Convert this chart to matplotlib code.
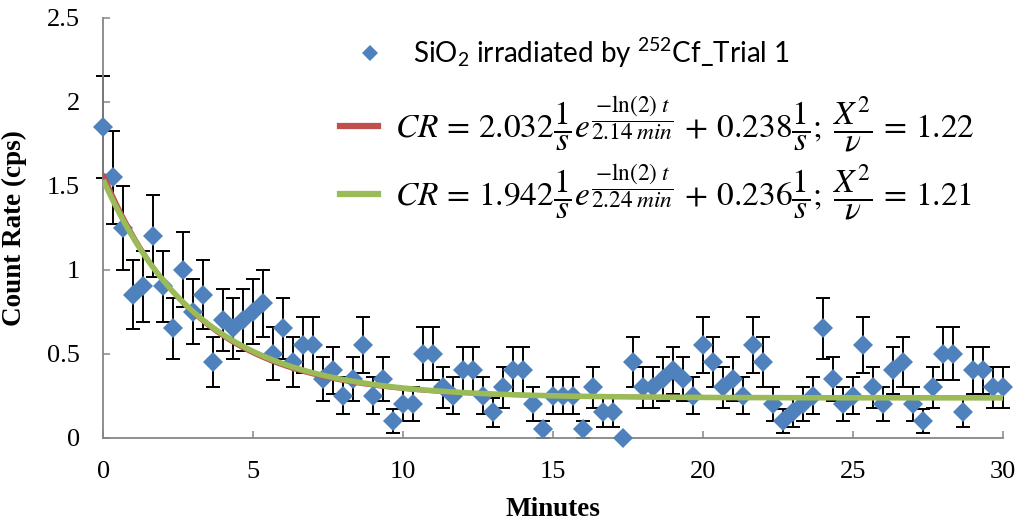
import numpy as np
import matplotlib
matplotlib.use("Agg")
import matplotlib.pyplot as plt
from matplotlib.lines import Line2D

# ---- data (count rate in cps, one bin every 20 s) ----
minutes = [i / 3 for i in range(91)]
count_rate = [
    1.85, 1.55, 1.25, 0.85, 0.90, 1.20, 0.90, 0.65, 1.00, 0.75, 0.85, 0.45, 0.70, 0.65, 0.70, 0.75, 0.80, 0.50, 0.65, 0.45, 0.55, 0.55,
    0.35, 0.40, 0.25, 0.35, 0.55, 0.25, 0.35, 0.10, 0.20, 0.20, 0.50, 0.50, 0.30, 0.25, 0.40, 0.40, 0.25, 0.15, 0.30, 0.40, 0.40, 0.20, 0.05,
    0.25, 0.25, 0.25, 0.05, 0.30, 0.15, 0.15, 0.00, 0.45, 0.30, 0.30, 0.35, 0.40, 0.35, 0.25, 0.55, 0.45, 0.30, 0.35, 0.25, 0.55, 0.45, 0.20,
    0.10, 0.15, 0.20, 0.25, 0.65, 0.35, 0.20, 0.25, 0.55, 0.30, 0.20, 0.40, 0.45, 0.20, 0.10, 0.30, 0.50, 0.50, 0.15, 0.40, 0.40, 0.30, 0.30,
]
count_err = [
    0.304, 0.278, 0.250, 0.206, 0.212, 0.245, 0.212, 0.180, 0.224, 0.194, 0.206, 0.150, 0.187, 0.180, 0.187, 0.194, 0.200, 0.158, 0.180, 0.150, 0.166, 0.166,
    0.132, 0.141, 0.112, 0.132, 0.166, 0.112, 0.132, 0.071, 0.100, 0.100, 0.158, 0.158, 0.122, 0.112, 0.141, 0.141, 0.112, 0.087, 0.122, 0.141, 0.141, 0.100, 0.050,
    0.112, 0.112, 0.112, 0.050, 0.122, 0.087, 0.087, 0.000, 0.150, 0.122, 0.122, 0.132, 0.141, 0.132, 0.112, 0.166, 0.150, 0.122, 0.132, 0.112, 0.166, 0.150, 0.100,
    0.071, 0.087, 0.100, 0.112, 0.180, 0.132, 0.100, 0.112, 0.166, 0.122, 0.100, 0.141, 0.150, 0.100, 0.071, 0.122, 0.158, 0.158, 0.087, 0.141, 0.141, 0.122, 0.122,
]

# fit parameters: amplitude (1/s), half-life (min), background (1/s)
fit1 = (2.032, 2.14, 0.238)
fit2 = (1.942, 2.24, 0.236)
t_delay = 1.3  # minutes between end of irradiation and start of counting

series_label = r'SiO$\mathregular{_2}$ irradiated by $\mathregular{^{252}}$Cf_Trial 1'
fit1_label = (r'$CR\,=\,2.032\dfrac{1}{s}e^{\dfrac{-\ln(2)\;t}{2.14\;min}}\,+\,0.238\dfrac{1}{s};\;'
              r'\dfrac{X^2}{\nu}\,=\,1.22$')
fit2_label = (r'$CR\,=\,1.942\dfrac{1}{s}e^{\dfrac{-\ln(2)\;t}{2.24\;min}}\,+\,0.236\dfrac{1}{s};\;'
              r'\dfrac{X^2}{\nu}\,=\,1.21$')

x_ticks = [0, 5, 10, 15, 20, 25, 30]
y_ticks = [0, 0.5, 1, 1.5, 2, 2.5]
y_tick_labels = ['0', '0.5', '1', '1.5', '2', '2.5']

plt.rcParams['mathtext.fontset'] = 'stix'

blue = '#4F81BD'
red = '#C0504D'
green = '#9BBB59'
axis_gray = '#868686'

fig = plt.figure(figsize=(10.17, 5.22), dpi=100)
ax = fig.add_axes([103.3 / 1017, 1 - 437.5 / 522, 900 / 1017, (437.5 - 18) / 522])

x = np.array(minutes)
y = np.array(count_rate)
e = np.array(count_err)

eb = ax.errorbar(x, y, yerr=e, fmt='none', ecolor='black', elinewidth=1.4,
                 capsize=5, capthick=1.4, zorder=2)
for artist in list(eb.lines[1]) + list(eb.lines[2]):
    artist.set_clip_on(False)

ax.plot(x, y, linestyle='none', marker='D', markersize=10.5, color=blue,
        markeredgewidth=0, zorder=3, clip_on=False)

t = np.linspace(0, 30, 400)
for (a, hl, b), col, lw in [(fit1, red, 3.2), (fit2, green, 4.0)]:
    ax.plot(t, a * np.exp(-np.log(2) * (t + t_delay) / hl) + b, color=col,
            linewidth=lw, zorder=4, solid_capstyle='butt')

ax.set_xlim(0, 30)
ax.set_ylim(0, 2.5)
ax.set_xticks(x_ticks)
ax.set_xticklabels([str(v) for v in x_ticks])
ax.set_yticks(y_ticks)
ax.set_yticklabels(y_tick_labels)

for side in ['top', 'right']:
    ax.spines[side].set_visible(False)
for side in ['left', 'bottom']:
    ax.spines[side].set_color(axis_gray)
    ax.spines[side].set_linewidth(1.3)
ax.tick_params(direction='in', length=5, width=1.1, color=axis_gray, pad=17,
               labelsize=19)
for lab in ax.get_xticklabels() + ax.get_yticklabels():
    lab.set_family('Liberation Serif')

ax.set_xlabel('Minutes', fontsize=19.5, fontweight='bold', family='Liberation Serif', labelpad=10)
ax.set_ylabel('Count Rate (cps)', fontsize=19.5, fontweight='bold', family='Liberation Serif', labelpad=14)

# legend: scatter entry
h_scatter = Line2D([], [], linestyle='none', marker='D', markersize=8, color=blue, markeredgewidth=0)
leg1 = ax.legend([h_scatter], [series_label], loc='center left',
                 bbox_to_anchor=(356 / 1017, 1 - 53 / 522), bbox_transform=fig.transFigure,
                 frameon=False, handlelength=1.0, handletextpad=1.05,
                 borderaxespad=0, borderpad=0, prop={'family': 'Lato', 'size': 20})
ax.add_artist(leg1)

# legend: fitted curves
h_fits = [Line2D([], [], color=red, linewidth=4.5),
          Line2D([], [], color=green, linewidth=4.5)]
leg2 = ax.legend(h_fits, [fit1_label, fit2_label], loc='center left',
                 bbox_to_anchor=(340 / 1017, 1 - 158.5 / 522), bbox_transform=fig.transFigure,
                 frameon=False, fontsize=24, handlelength=1.15, handletextpad=0.5,
                 labelspacing=0.27, borderaxespad=0, borderpad=0)

fig.savefig('out.png', dpi=100)
